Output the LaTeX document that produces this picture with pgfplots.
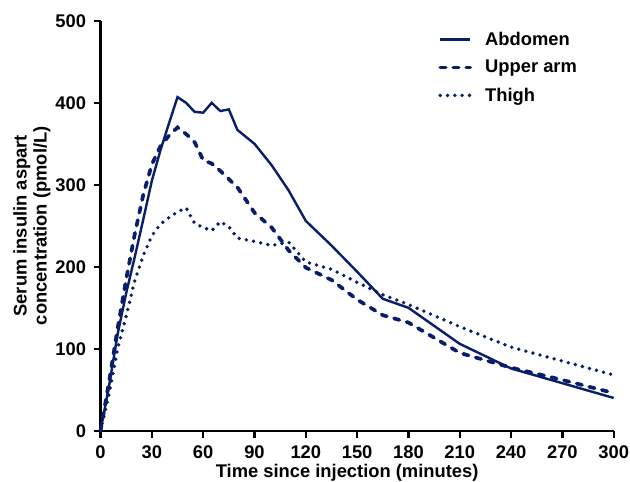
\documentclass[border=0pt]{standalone}
\usepackage{pgfplots}
\pgfplotsset{compat=1.18}
\usepackage{fontspec}
\setmainfont{Liberation Sans}
\newfontfamily\hb{Liberation Sans Bold}
\definecolor{navy}{RGB}{8,30,105}

\begin{document}
\begin{tikzpicture}
\begin{axis}[
    width=512pt, height=409pt, scale only axis,
    xmin=0, xmax=300, ymin=0, ymax=500,
    axis x line*=bottom, axis y line*=left,
    axis line style={line width=2.4pt, -},
    xtick={0,30,...,300}, ytick={0,100,...,500},
    tick align=outside, major tick length=7pt,
    tick style={line width=2.4pt, black},
    minor tick num=0,
    /pgf/number format/assume math mode=true,
    tick label style={font=\fontsize{18.3}{20}\selectfont\hb},
    xticklabel style={yshift=-7pt, inner sep=1pt},
    yticklabel style={xshift=-4pt},
    xlabel={Time since injection (minutes)},
    ylabel={Serum insulin aspart\\concentration (pmol/L)},
    label style={font=\fontsize{18.3}{20}\selectfont\hb},
    xlabel style={yshift=-2.5pt, xshift=-10pt, inner sep=1pt},
    ylabel style={align=center, yshift=-2pt},
    clip=false,
    legend style={at={(rel axis cs:0.652,0.983)}, anchor=north west, draw=none, fill=none,
        font=\fontsize{18.3}{20}\selectfont\hb, row sep=9.5pt},
    legend cell align=left,
    legend image code/.code={\draw[#1] (0pt,0pt) -- (30pt,0pt); \path (41pt,0pt);},
]
\addplot[navy, line width=2.4pt] coordinates {
(0,0) (5,55) (10,118) (15,168) (20,212) (25,258) (30,305) (35,342) (40,375)
(45,407) (50,400) (55,389) (60,388) (65,400) (70,390) (75,392) (80,367)
(90,350) (100,324) (110,293) (120,256) (135,226) (150,194) (165,161)
(180,150) (210,106) (240,76) (270,58) (300,40)
};
\addlegendentry{Abdomen}
\addplot[navy, line width=3.7pt, line cap=round, dash pattern=on 5.5pt off 7.5pt] coordinates {
(0,0) (5,60) (10,125) (15,185) (20,240) (25,288) (30,325) (35,347) (40,360)
(45,370) (50,362) (55,352) (60,330) (65,326) (70,317) (80,297) (90,266)
(100,248) (110,220) (120,199) (135,184) (150,160) (165,141) (180,132)
(210,95) (240,77) (270,62) (300,46)
};
\addlegendentry{Upper arm}
\addplot[navy, line width=3.8pt, line cap=round, dash pattern=on 0pt off 7.3pt] coordinates {
(0,0) (5,45) (10,100) (15,140) (20,183) (25,214) (30,238) (35,252) (40,260)
(45,267) (50,272) (55,253) (60,248) (65,244) (70,255) (75,249) (80,235)
(90,231) (100,226) (110,230) (120,206) (135,197) (150,181) (165,166)
(180,154) (210,127) (240,102) (270,85) (300,68)
};
\addlegendentry{Thigh}
\end{axis}
\path ([xshift=-10pt,yshift=11pt]current bounding box.north west);
\end{tikzpicture}
\end{document}
